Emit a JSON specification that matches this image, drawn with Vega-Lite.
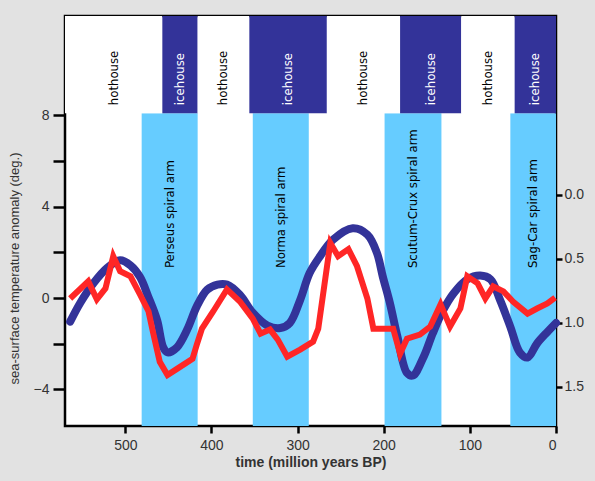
{
  "$schema": "https://vega.github.io/schema/vega-lite/v6.json",
  "width": 491,
  "height": 410,
  "autosize": {"type": "none"},
  "padding": {"left": 65, "top": 16, "right": 39, "bottom": 55},
  "background": "#e2e2e2",
  "config": {
    "view": {"fill": "white", "stroke": "black", "strokeWidth": 2.5},
    "font": "Liberation Sans"
  },
  "datasets": {
    "regimes": [
      {"start": 457, "end": 570, "regime": "hothouse"},
      {"start": 416, "end": 457, "regime": "icehouse"},
      {"start": 356, "end": 416, "regime": "hothouse"},
      {"start": 266, "end": 356, "regime": "icehouse"},
      {"start": 181, "end": 266, "regime": "hothouse"},
      {"start": 110, "end": 181, "regime": "icehouse"},
      {"start": 48, "end": 110, "regime": "hothouse"},
      {"start": 0, "end": 48, "regime": "icehouse"}
    ],
    "arms": [
      {"start": 416, "end": 481, "arm": "Perseus spiral arm"},
      {"start": 287, "end": 352, "arm": "Norma spiral arm"},
      {"start": 133, "end": 199, "arm": "Scutum-Crux spiral arm"},
      {"start": 0, "end": 53, "arm": "Sag-Car spiral arm"}
    ],
    "temp": [
      {"time": 564, "anomaly": -0.02},
      {"time": 543, "anomaly": 0.73},
      {"time": 533, "anomaly": -0.06},
      {"time": 523, "anomaly": 0.42},
      {"time": 514, "anomaly": 1.83},
      {"time": 506, "anomaly": 1.17},
      {"time": 494, "anomaly": 0.95},
      {"time": 483, "anomaly": 0.16},
      {"time": 473, "anomaly": -0.59},
      {"time": 468, "anomaly": -1.47},
      {"time": 460, "anomaly": -2.79},
      {"time": 451, "anomaly": -3.37},
      {"time": 440, "anomaly": -3.1},
      {"time": 422, "anomaly": -2.66},
      {"time": 417, "anomaly": -2.04},
      {"time": 411, "anomaly": -1.34},
      {"time": 398, "anomaly": -0.59},
      {"time": 382, "anomaly": 0.38},
      {"time": 367, "anomaly": -0.15},
      {"time": 352, "anomaly": -0.9},
      {"time": 343, "anomaly": -1.56},
      {"time": 332, "anomaly": -1.38},
      {"time": 323, "anomaly": -1.82},
      {"time": 312, "anomaly": -2.57},
      {"time": 297, "anomaly": -2.26},
      {"time": 282, "anomaly": -1.91},
      {"time": 276, "anomaly": -1.34},
      {"time": 262, "anomaly": 2.41},
      {"time": 253, "anomaly": 1.83},
      {"time": 241, "anomaly": 2.14},
      {"time": 231, "anomaly": 1.39},
      {"time": 219, "anomaly": -0.02},
      {"time": 212, "anomaly": -1.34},
      {"time": 196, "anomaly": -1.34},
      {"time": 189, "anomaly": -1.34},
      {"time": 181, "anomaly": -2.44},
      {"time": 173, "anomaly": -1.78},
      {"time": 158, "anomaly": -1.6},
      {"time": 146, "anomaly": -1.25},
      {"time": 134, "anomaly": -0.28},
      {"time": 123, "anomaly": -1.25},
      {"time": 111, "anomaly": -0.46},
      {"time": 103, "anomaly": 0.95},
      {"time": 91, "anomaly": 0.64},
      {"time": 82, "anomaly": -0.02},
      {"time": 73, "anomaly": 0.51},
      {"time": 61, "anomaly": 0.29},
      {"time": 50, "anomaly": -0.15},
      {"time": 33, "anomaly": -0.68},
      {"time": 22, "anomaly": -0.46},
      {"time": 10, "anomaly": -0.24},
      {"time": 1, "anomaly": 0.02}
    ],
    "flux": [
      {"time": 564, "flux": 0.99},
      {"time": 552, "flux": 0.84},
      {"time": 537, "flux": 0.69},
      {"time": 521, "flux": 0.57},
      {"time": 506, "flux": 0.51},
      {"time": 494, "flux": 0.55},
      {"time": 483, "flux": 0.64},
      {"time": 473, "flux": 0.8},
      {"time": 463, "flux": 0.98},
      {"time": 456, "flux": 1.19},
      {"time": 451, "flux": 1.23},
      {"time": 440, "flux": 1.19},
      {"time": 428, "flux": 1.05},
      {"time": 417, "flux": 0.87},
      {"time": 405, "flux": 0.74},
      {"time": 393, "flux": 0.7},
      {"time": 382, "flux": 0.7},
      {"time": 367, "flux": 0.78},
      {"time": 352, "flux": 0.92},
      {"time": 335, "flux": 1.02},
      {"time": 320, "flux": 1.04},
      {"time": 309, "flux": 1.0},
      {"time": 297, "flux": 0.82},
      {"time": 286, "flux": 0.61},
      {"time": 274, "flux": 0.48},
      {"time": 259, "flux": 0.35},
      {"time": 236, "flux": 0.26},
      {"time": 219, "flux": 0.31},
      {"time": 208, "flux": 0.45},
      {"time": 201, "flux": 0.64},
      {"time": 193, "flux": 0.84},
      {"time": 184, "flux": 1.11},
      {"time": 173, "flux": 1.39},
      {"time": 166, "flux": 1.41},
      {"time": 154, "flux": 1.27},
      {"time": 143, "flux": 1.08},
      {"time": 131, "flux": 0.9},
      {"time": 119, "flux": 0.77},
      {"time": 103, "flux": 0.66},
      {"time": 88, "flux": 0.63},
      {"time": 76, "flux": 0.66},
      {"time": 65, "flux": 0.82},
      {"time": 53, "flux": 1.03},
      {"time": 42, "flux": 1.23},
      {"time": 33, "flux": 1.27},
      {"time": 22, "flux": 1.16},
      {"time": 10, "flux": 1.07},
      {"time": 0, "flux": 1.0}
    ]
  },
  "layer": [
    {
      "layer": [
        {
          "data": {"name": "arms"},
          "mark": {"type": "rect", "fill": "#66ccff"},
          "encoding": {
            "x": {
              "field": "start", "type": "quantitative",
              "scale": {"domain": [0, 570], "reverse": true, "nice": false, "zero": false},
              "axis": {
                "values": [500, 400, 300, 200, 100, 0],
                "domain": false, "grid": false,
                "tickSize": 7, "tickWidth": 2.5, "tickColor": "black",
                "labelFont": "Liberation Sans", "labelFontSize": 14, "labelColor": "#333",
                "labelPadding": 5,
                "title": "time (million years BP)",
                "titleFont": "Liberation Sans", "titleFontSize": 14, "titleFontWeight": "bold",
                "titleColor": "#333", "titlePadding": 3
              }
            },
            "x2": {"field": "end"},
            "y": {
              "datum": -5.6, "type": "quantitative",
              "scale": {"domain": [-5.6, 12.34], "nice": false, "zero": false},
              "axis": {
                "values": [8, 6, 4, 2, 0, -2, -4],
                "labelExpr": "datum.value % 4 == 0 ? replace(datum.label, '-', '\u2212') : ''",
                "domain": false, "grid": false,
                "tickSize": 12, "tickWidth": 2.5, "tickColor": "black",
                "labelFont": "Liberation Sans", "labelFontSize": 14, "labelColor": "#333",
                "labelPadding": 4,
                "title": "sea-surface temperature anomaly (deg.)",
                "titleFont": "Liberation Sans", "titleFontSize": 13, "titleFontWeight": "normal",
                "titleColor": "#333",
                "titleX": -44, "titleY": 252, "titleAngle": 270,
                "titleAlign": "center", "titleBaseline": "bottom"
              }
            },
            "y2": {"datum": 8.09}
          }
        },
        {
          "data": {"name": "regimes"},
          "mark": {"type": "rect"},
          "encoding": {
            "x": {"field": "start", "type": "quantitative"},
            "x2": {"field": "end"},
            "y": {"datum": 8.09, "type": "quantitative"},
            "y2": {"datum": 12.34},
            "fill": {"condition": {"test": "datum.regime == 'icehouse'", "value": "#333399"}, "value": "white"}
          }
        },
        {
          "data": {"name": "regimes"},
          "transform": [{"calculate": "(datum.start + datum.end) / 2", "as": "mid"}],
          "mark": {"type": "text", "angle": 270, "align": "left", "baseline": "middle", "font": "DejaVu Sans Condensed, Liberation Sans", "fontSize": 13},
          "encoding": {
            "x": {"field": "mid", "type": "quantitative"},
            "y": {"datum": 8.44, "type": "quantitative"},
            "text": {"field": "regime"},
            "color": {"condition": {"test": "datum.regime == 'icehouse'", "value": "white"}, "value": "black"}
          }
        },
        {
          "data": {"name": "arms"},
          "transform": [{"calculate": "(datum.start + datum.end) / 2", "as": "mid"}],
          "mark": {"type": "text", "angle": 270, "align": "left", "baseline": "middle", "font": "DejaVu Sans Condensed, Liberation Sans", "fontSize": 13, "color": "black"},
          "encoding": {
            "x": {"field": "mid", "type": "quantitative"},
            "y": {"datum": 1.31, "type": "quantitative"},
            "text": {"field": "arm"}
          }
        },
        {
          "mark": {"type": "rule", "color": "black", "strokeWidth": 2.5},
          "encoding": {"y": {"datum": 0, "type": "quantitative"}}
        },
        {
          "mark": {"type": "rule", "color": "black", "strokeWidth": 2.5},
          "encoding": {"y": {"datum": 8.09, "type": "quantitative"}}
        }
      ]
    },
    {
      "data": {"name": "flux"},
      "mark": {"type": "line", "color": "#333399", "strokeWidth": 8, "interpolate": "catmull-rom", "strokeCap": "round", "strokeJoin": "round"},
      "encoding": {
        "x": {"field": "time", "type": "quantitative"},
        "y": {
          "field": "flux", "type": "quantitative",
          "scale": {"domain": [-1.398, 1.805], "reverse": true, "nice": false, "zero": false},
          "axis": {
            "orient": "right",
            "values": [0, 0.5, 1, 1.5],
            "format": ".1f",
            "domain": false, "grid": false,
            "tickSize": 6, "tickWidth": 2.5, "tickColor": "black",
            "labelFont": "Liberation Sans", "labelFontSize": 14, "labelColor": "#333",
            "labelPadding": 2,
            "title": null
          }
        }
      }
    },
    {
      "data": {"name": "temp"},
      "mark": {"type": "line", "color": "#ff2626", "strokeWidth": 6, "strokeJoin": "miter"},
      "encoding": {
        "x": {"field": "time", "type": "quantitative"},
        "y": {
          "field": "anomaly", "type": "quantitative",
          "scale": {"domain": [-5.6, 12.34], "nice": false, "zero": false},
          "axis": null
        }
      }
    }
  ],
  "resolve": {"scale": {"y": "independent"}}
}
